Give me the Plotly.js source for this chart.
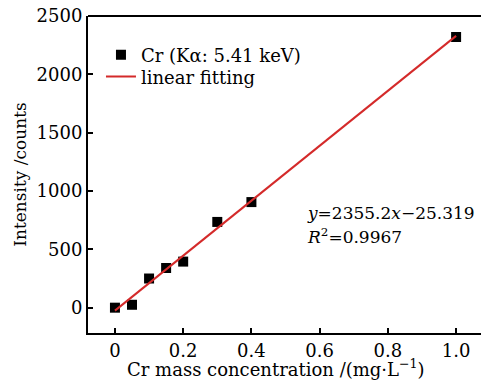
<!DOCTYPE html>
<html><head><meta charset="utf-8">
<script src="https://cdn.plot.ly/plotly-3.0.1.min.js"></script>
<style>html,body{margin:0;padding:0;overflow:hidden;background:#fff}</style>
</head><body><div id="chart" style="width:481px;height:382px"></div>
<script>
const concentration = [0, 0.05, 0.1, 0.15, 0.2, 0.3, 0.4, 1.0];
const intensity = [0, 25, 250, 340, 395, 735, 905, 2320];
const fitX = [0, 1.0];
const fitY = [-25.3, 2329.9];
const xTicks = [0, 0.2, 0.4, 0.6, 0.8, 1.0];
const xTickText = ['0', '0.2', '0.4', '0.6', '0.8', '1.0'];
const yTicks = [0, 500, 1000, 1500, 2000, 2500];
const xTitle = 'Cr mass concentration /(mg·L<sup>−1</sup>)';
const yTitle = 'Intensity /counts';

const F = 'DejaVu Serif, serif';
const traces = [
  {x: concentration, y: intensity, mode: 'markers', type: 'scatter', name: 'Cr (Kα: 5.41 keV)',
   legend: 'legend', marker: {symbol: 'square', size: 10, color: '#000'}},
  {x: fitX, y: fitY, mode: 'lines', type: 'scatter', name: 'linear fitting',
   legend: 'legend2', line: {color: '#d42a2a', width: 2}}
];
const legBase = {xanchor: 'left', yanchor: 'middle', bgcolor: 'rgba(0,0,0,0)',
  font: {family: F, size: 18, color: '#000'}, itemwidth: 30, borderwidth: 0};
const layout = {
  width: 481, height: 382,
  margin: {l: 88, r: 0, t: 16, b: 49},
  paper_bgcolor: '#fff', plot_bgcolor: '#fff',
  font: {family: F, size: 17, color: '#000'},
  showlegend: true,
  legend: Object.assign({x: 0.033, y: 0.877}, legBase),
  legend2: Object.assign({x: 0.033, y: 0.808}, legBase),
  xaxis: {range: [-0.079, 1.073], tickvals: xTicks, ticktext: xTickText,
          showgrid: false, zeroline: false, showline: true, linewidth: 2, linecolor: '#000',
          ticks: 'inside', ticklen: 5, tickwidth: 2, tickcolor: '#000',
          tickfont: {family: F, size: 18}},
  yaxis: {range: [-217, 2500], tickvals: yTicks,
          showgrid: false, zeroline: false, showline: true, linewidth: 2, linecolor: '#000',
          ticks: 'inside', ticklen: 5, tickwidth: 2, tickcolor: '#000',
          tickfont: {family: F, size: 18},
          title: {text: yTitle, font: {family: F, size: 17}, standoff: 6}},
  shapes: [{type: 'line', xref: 'paper', yref: 'paper', x0: 0, x1: 1, y0: 1, y1: 1,
            line: {color: '#000', width: 2}}],
  annotations: [
    {xref: 'paper', yref: 'paper', x: 0.478, y: -0.110, xanchor: 'center', yanchor: 'middle', showarrow: false,
     text: xTitle, font: {family: F, size: 18}},
    {xref: 'paper', yref: 'paper', x: 0.552, y: 0.379, xanchor: 'left', yanchor: 'middle', showarrow: false,
     text: '<i>y</i>=2355.2<i>x</i>−25.319', font: {family: F, size: 17}},
    {xref: 'paper', yref: 'paper', x: 0.552, y: 0.306, xanchor: 'left', yanchor: 'middle', showarrow: false,
     text: '<i>R</i><sup>2</sup>=0.9967', font: {family: F, size: 17}}
  ]
};
Plotly.newPlot('chart', traces, layout, {displayModeBar: false, staticPlot: true});
</script></body></html>
